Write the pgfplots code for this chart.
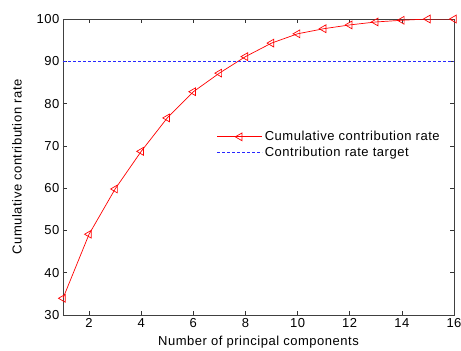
\documentclass[border=0pt]{standalone}
\usepackage{fontspec}
\setmainfont{Liberation Sans}[LetterSpace=4]
\usepackage{pgfplots}
\pgfplotsset{compat=1.18}
\definecolor{myblue}{RGB}{40,40,255}
\definecolor{myred}{RGB}{255,0,0}
\begin{document}
\begin{tikzpicture}[x=1pt,y=1pt]
\begin{axis}[
  at={(0,0)}, anchor=south west,
  scale only axis, width=391pt, height=296pt,
  xmin=1, xmax=16, ymin=30, ymax=100,
  xtick={2,4,...,16}, ytick={30,40,...,100},
  tick align=inside, major tick length=4pt,
  tick style={black!80, line width=0.5pt},
  axis line style={black!75, line width=0.6pt},
  /pgf/number format/assume math mode=true,
  font=\fontsize{13}{15}\selectfont,
  xlabel={Number of principal components},
  ylabel={Cumulative contribution rate},
  xlabel style={yshift=-1pt},
  ylabel style={yshift=8pt},
  legend style={at={(0.385,0.575)}, anchor=west, draw=none, fill=none,
    font=\fontsize{13}{15}\selectfont, row sep=1pt},
  legend cell align=left,
  legend image code/.code={\draw[#1] (0pt,0pt) -- (45pt,0pt);
    \draw[#1,only marks] plot coordinates {(22.5pt,0pt)};},
]
\addplot[color=myred, line width=0.7pt, mark=triangle, mark size=4.5pt, mark options={rotate=90, solid, fill=none}]
coordinates {
(1,33.95) (2,49.1) (3,59.8) (4,68.7) (5,76.6) (6,82.8) (7,87.2) (8,91.1)
(9,94.3) (10,96.5) (11,97.7) (12,98.6) (13,99.3) (14,99.7) (15,100) (16,100)
};
\addlegendentry{Cumulative contribution rate}
\addplot[draw=myblue, color=myblue, line width=1.1pt, dash pattern=on 3pt off 2pt, mark=none] coordinates {(1,90) (16,90)};
\addlegendentry{Contribution rate target}
\end{axis}
\pgfresetboundingbox
\path (-63pt,-36pt) rectangle (398pt,315pt);
\end{tikzpicture}
\end{document}
